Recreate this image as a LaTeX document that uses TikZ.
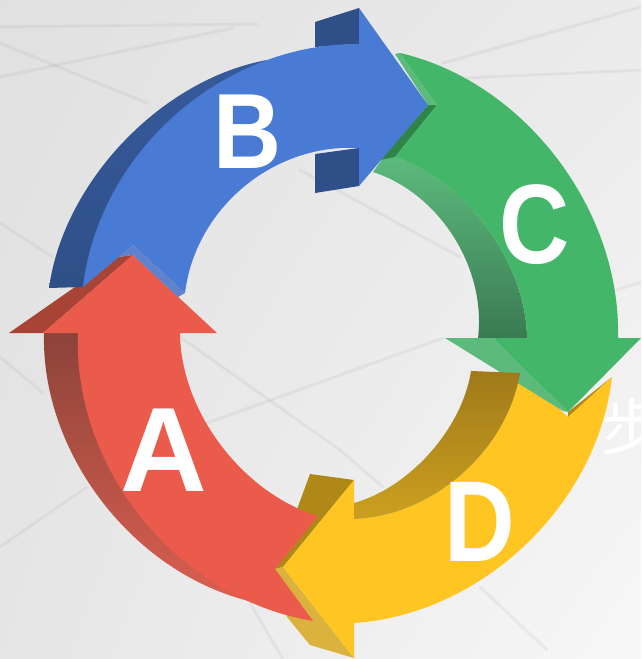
\documentclass[tikz,border=0pt]{standalone}
\usepackage{fontspec}
\usetikzlibrary{shadings,calc}
\setmainfont{Liberation Sans}
\newfontfamily\cjkfont{Noto Sans CJK SC}
\definecolor{bluefront}{HTML}{4A7BD4}
\definecolor{bluedark}{HTML}{2F4F88}
\definecolor{blueband}{HTML}{5F82CC}
\definecolor{redfront}{HTML}{EA5B4B}
\definecolor{reddark}{HTML}{A84435}
\definecolor{redsidetop}{HTML}{8C4339}
\definecolor{redsidemid}{HTML}{A5564A}
\definecolor{redsidelow}{HTML}{DA5F50}
\definecolor{greenfront}{HTML}{44B669}
\definecolor{greenlight}{HTML}{5CBA7D}
\definecolor{greenmid}{HTML}{60AE7D}
\definecolor{greenlow}{HTML}{3A7A52}
\definecolor{greendark}{HTML}{2F8548}
\definecolor{yellowfront}{HTML}{FFC623}
\definecolor{yellowdark}{HTML}{AF8817}
\definecolor{yellowlight}{HTML}{DBB23D}
\definecolor{yellowsidetop}{HTML}{A07A1A}
\definecolor{yellowsidemid}{HTML}{B18A1A}
\definecolor{yellowsidelow}{HTML}{CBA01F}
% curve from #1 through apex #2 to #3 (the pen must stand at #1)
\newcommand\arcvia[3]{.. controls ($0.057*#1+1.333*#2-0.391*#3$) and ($0.057*#3+1.333*#2-0.391*#1$) .. #3}
\tikzset{
  bgline/.style={draw=black,opacity=0.045,line width=3pt,line cap=round},
  lettertext/.style={text=white,font=\bfseries\fontsize{#1}{#1}\selectfont,inner sep=0pt}
}
\begin{document}
\begin{tikzpicture}[x=1pt,y=-1pt]
\useasboundingbox (0,0) rectangle (641,659);
\clip (0,0) rectangle (641,659);
% background
\shade[upper left=black!12,upper right=black!8,lower left=black!10,lower right=black!3] (0,0) rectangle (641,659);
\foreach \xa/\ya/\xb/\yb in {0/27/257/24,0/77/233/28,0/43/147/103,443/63/641/7,467/78/641/70,617/290/641/282,0/547/87/487,0/357/43/393,180/337/340/450,207/423/443/338,340/450/383/487,480/587/547/650,250/603/283/659,0/223/53/257,300/170/460/257}
  \draw[bgline] (\xa,\ya) -- (\xb,\yb);
\node[text=white,inner sep=0pt,font=\cjkfont\fontsize{62}{62}\selectfont] (bu) at (631,427) {步};
% red back parts
\fill[reddark] (9,333) -- (43,333) -- (133,255) -- (118,257) -- cycle;
\shade[top color=redsidetop,middle color=redsidemid,bottom color=redsidelow]
  (44,333) \arcvia{(44,333)}{(103,503)}{(253,602)} -- (78,333) -- cycle;
% yellow head sides
\fill[yellowdark] (310,474) -- (354,480) -- (283,567) -- (275,569) -- cycle;
\fill[yellowlight] (275,569) -- (283,567) -- (354,658) -- (310,645) -- (287,617) -- cycle;
% red front
\fill[redfront] (78,333) \arcvia{(78,333)}{(143,520)}{(313,621)}
  -- (275,569) -- (318,516)
  \arcvia{(318,516)}{(221,445.5)}{(180,333)}
  -- (217,333) -- (133,255) -- (43,333) -- cycle;
% yellow front
\fill[yellowdark] (568,412) -- (612,377) -- (568,418) -- cycle;
\fill[yellowfront] (612,377) \arcvia{(612,377)}{(526,545)}{(354,623)}
  -- (354,658) -- (283,567) -- (354,480) -- (354,519)
  \arcvia{(354,519)}{(462,474.5)}{(520,373)}
  -- (568,417) -- cycle;
% green
\shade[top color=greenlight,middle color=greenmid,bottom color=greenlow]
  (373,172) \arcvia{(373,172)}{(454,237)}{(478,338)}
  -- (527,338) \arcvia{(527,338)}{(488,229)}{(395,157)} -- (383,158) -- cycle;
\fill[greendark] (437,105) -- (428,105) -- (380,160) -- (395,157) -- cycle;
\fill[greenlight] (395,54) -- (400,53) -- (437,105) -- (428,105) -- cycle;
\fill[greenlight] (445,338) -- (493,338) -- (568,412) -- (563,411) -- cycle;
\fill[greenfront] (400,53) \arcvia{(400,53)}{(557,158)}{(618,338)}
  -- (641,338) -- (568,412) -- (493,338) -- (527,338)
  \arcvia{(527,338)}{(488,229)}{(395,157)}
  -- (437,105) -- cycle;
% yellow tail side
\shade[top color=yellowsidetop,middle color=yellowsidemid,bottom color=yellowsidelow]
  (471,371) \arcvia{(471,371)}{(430.5,453)}{(354,503)}
  -- (354,519) \arcvia{(354,519)}{(462,474.5)}{(520,373)} -- cycle;
% blue
\fill[bluedark] (315,22) -- (359,8) -- (359,44) -- (315,47) -- cycle;
\fill[bluedark] (315,154) -- (359,148) -- (359,186) -- (315,193) -- cycle;
\shade[top color=bluedark!75!bluefront,bottom color=bluedark]
  (49,288) \arcvia{(49,288)}{(124,141.5)}{(267,60)} -- (83,287) -- cycle;
\fill[bluefront] (83,287) \arcvia{(83,287)}{(176,114.5)}{(359,44)}
  -- (359,8) -- (428,105) -- (359,186) -- (359,148)
  \arcvia{(359,148)}{(244,187)}{(185,293)}
  -- (133,245) -- cycle;
\fill[blueband] (118,257) -- (133,245) -- (185,293) -- (178,297) -- (133,255) -- cycle;
% letters
\node[lettertext=120] (A) at (164,450) {A};
\node[lettertext=107,xscale=0.88] (B) at (247,132) {B};
\node[lettertext=113,xscale=0.86] (C) at (535,225) {C};
\node[lettertext=115,xscale=0.85] (D) at (480,522) {D};
\end{tikzpicture}
\end{document}
